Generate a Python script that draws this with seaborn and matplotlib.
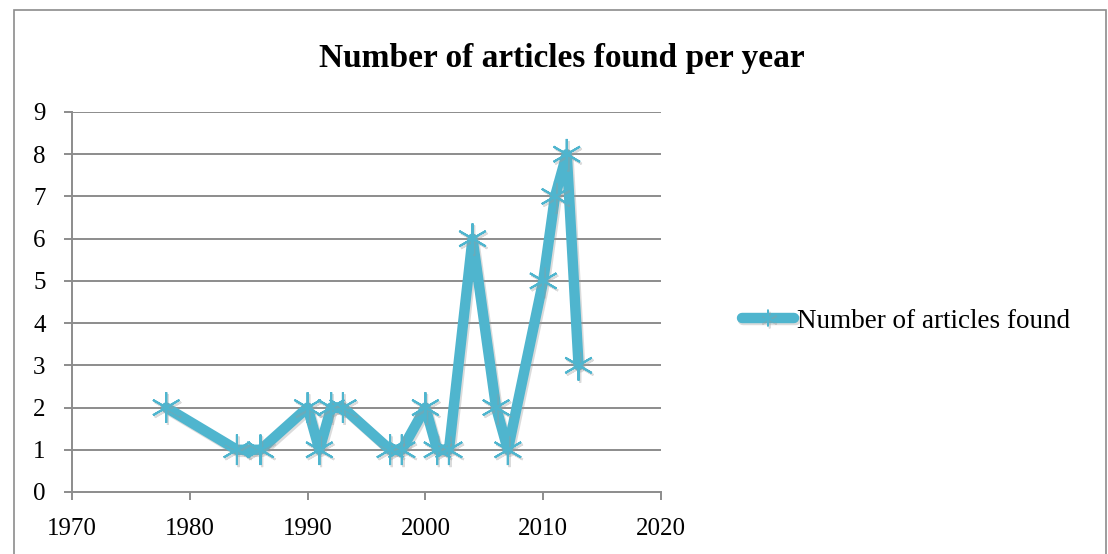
import matplotlib
matplotlib.use("Agg")
import matplotlib.pyplot as plt
import matplotlib.patheffects as pe
from matplotlib.patches import Rectangle
import seaborn as sns
import pandas as pd

years = [1978, 1984, 1986, 1990, 1991, 1992, 1993, 1997, 1998, 2000,
         2001, 2002, 2004, 2006, 2007, 2010, 2011, 2012, 2013]
articles = [2, 1, 1, 2, 1, 2, 2, 1, 1, 2, 1, 1, 6, 2, 1, 5, 7, 8, 3]
series_name = "Number of articles found"
chart_title = "Number of articles found per year"
x_ticks = [1970, 1980, 1990, 2000, 2010, 2020]
y_ticks = list(range(0, 10))

df = pd.DataFrame({"year": years, "count": articles})

sns.set_style("white")
plt.rcParams["font.family"] = ["Liberation Serif", "DejaVu Serif"]
plt.rcParams["text.color"] = "black"

W, H = 1108, 554
fig = plt.figure(figsize=(W / 100, H / 100), dpi=100)
ax = fig.add_axes([72 / W, 1 - 492 / H, (661 - 72) / W, (492 - 112) / H])

color = "#4FB5CE"
shadow = [pe.SimpleLineShadow(offset=(1.2, -1.5), shadow_color="#9a9a9a", alpha=0.35), pe.Normal()]
sns.lineplot(data=df, x="year", y="count", ax=ax, color=color, linewidth=7.5,
             marker=(6, 2, 0), markersize=22, markeredgewidth=1.5,
             markeredgecolor=color, label=series_name, sort=False,
             path_effects=shadow)

ax.set_xlim(x_ticks[0], x_ticks[-1])
ax.set_ylim(y_ticks[0], y_ticks[-1])
ax.set_xticks(x_ticks)
ax.set_yticks(y_ticks)
ax.set_xlabel("")
ax.set_ylabel("")

grid_color = "#8c8c8c"
for v in y_ticks[1:]:
    ax.axhline(v, color=grid_color, linewidth=1.4, zorder=0)
for s in ["top", "right"]:
    ax.spines[s].set_visible(False)
for s in ["left", "bottom"]:
    ax.spines[s].set_color(grid_color)
    ax.spines[s].set_linewidth(1.4)
ax.tick_params(axis="both", which="major", length=6, width=1.4, color=grid_color,
               labelsize=18, labelcolor="black")
ax.tick_params(axis="x", direction="out", bottom=True, pad=13)
ax.tick_params(axis="y", direction="out", left=True, pad=13)

fig.text(562 / W, 1 - 58 / H, chart_title, ha="center", va="center",
         fontsize=24, fontweight="bold", color="black")

leg = ax.legend(loc="center left", bbox_to_anchor=(728 / W, 1 - 321 / H),
                bbox_transform=fig.transFigure, frameon=False, fontsize=19.5,
                handlelength=1.95, handletextpad=0.1, borderpad=0)
for t in leg.get_texts():
    t.set_color("black")
for h in leg.legend_handles:
    h.set_markersize(12)
    h.set_markeredgewidth(1.2)

fig.patches.append(Rectangle((14 / W, -0.01), (1106 - 14) / W, 1 - 10 / H + 0.01,
                             transform=fig.transFigure, fill=False,
                             edgecolor="#8c8c8c", linewidth=1.2))

fig.savefig("out.png", dpi=100, facecolor="white")
